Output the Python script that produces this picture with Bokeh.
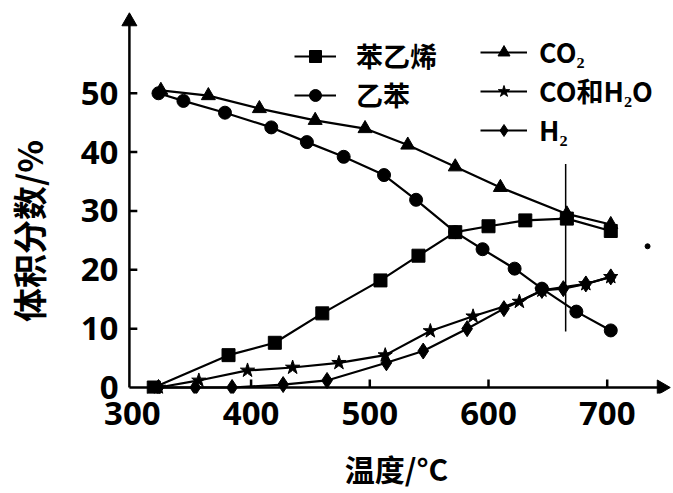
import math
from bokeh.plotting import figure
from bokeh.embed import file_html
from bokeh.resources import INLINE
from bokeh.models import Range1d, FixedTicker, Legend, LegendItem

# ---- data ----
t_styrene = [318, 381, 420, 460, 509, 541, 572, 600, 631, 666, 703]
styrene = [0, 5.5, 7.6, 12.6, 18.2, 22.4, 26.4, 27.4, 28.4, 28.7, 26.6]

t_ethylbenzene = [322, 343, 378, 417, 447, 478, 512, 539, 572, 595, 622, 645, 674, 703]
ethylbenzene = [50, 48.7, 46.7, 44.2, 41.7, 39.2, 36.1, 31.9, 26.4, 23.5, 20.2, 16.8, 12.9, 9.7]

t_co2 = [324, 364, 407, 454, 496, 532, 572, 610, 666, 703]
co2 = [50.5, 49.6, 47.4, 45.4, 44.0, 41.2, 37.5, 34.0, 29.5, 27.7]

t_co_h2o = [322, 356, 397, 435, 474, 513, 551, 587, 626, 645, 682, 703]
co_h2o = [0, 1.2, 2.9, 3.4, 4.2, 5.5, 9.6, 12.1, 14.6, 16.5, 17.6, 18.8]

t_h2 = [322, 353, 384, 427, 464, 514, 545, 582, 613, 645, 663, 682, 703]
h2 = [0, 0, 0, 0.5, 1.2, 4.2, 6.2, 10.0, 13.4, 16.5, 16.8, 17.6, 18.8]

x_ticks = [300, 400, 500, 600, 700]
y_ticks = [0, 10, 20, 30, 40, 50]

x_title = "温度/°C"
y_title = "体积分数/%"

vline_x = [665]
vline_y0 = [9.5]
vline_y1 = [38]

stray_x = [734]
stray_y = [24]

# ---- ranges / axis placement ----
W, H = 672, 492
BL, BB = 114, 98
FRAME_W, FRAME_H = W - BL, H - BB
X0 = 290.0
X1 = X0 + FRAME_W / 1.2          # 1.2 px per unit
Y0 = -6 / 5.9
Y1 = Y0 + FRAME_H / 5.9          # 5.9 px per unit
AX_X = 297.5                     # data x where the y axis line sits
AX_Y = 0.0                       # data y where the x axis line sits
PX_X = (X1 - X0) / FRAME_W       # data units per pixel
PX_Y = (Y1 - Y0) / FRAME_H

p = figure(width=W, height=H, output_backend="svg", toolbar_location=None,
           x_range=Range1d(X0, X1), y_range=Range1d(Y0, Y1),
           min_border_left=BL, min_border_right=0, min_border_top=0, min_border_bottom=BB)
p.outline_line_color = None
p.grid.visible = False
p.background_fill_color = "white"

tick_font = "Open Sans"
cjk = "Noto Sans CJK SC"

# Bokeh axes carry the tick labels and titles; the arrowed axis lines are drawn below
for ax in (p.xaxis[0], p.yaxis[0]):
    ax.axis_line_color = None
    ax.major_tick_line_color = None
    ax.major_tick_in = 0
    ax.major_tick_out = 0
    ax.minor_tick_line_color = None
    ax.major_label_text_font = tick_font
    ax.major_label_text_font_size = "33px"
    ax.major_label_text_font_style = "bold"
    ax.major_label_text_color = "black"
    ax.axis_label_text_font = cjk
    ax.axis_label_text_font_style = "bold"
    ax.axis_label_text_color = "black"

p.xaxis.ticker = FixedTicker(ticks=x_ticks)
p.yaxis.ticker = FixedTicker(ticks=y_ticks)
p.xaxis.major_label_standoff = 8
p.yaxis.major_label_standoff = 2

p.xaxis.axis_label = x_title
p.xaxis.axis_label_text_font_size = "30px"
p.xaxis.axis_label_standoff = 18

# trailing ideographic spaces move the visible title down along the axis, as in the reference
p.yaxis.axis_label = y_title + "\u3000\u3000"
p.yaxis.axis_label_text_font_size = "34px"
p.yaxis.axis_label_standoff = 25

# axis lines with arrow heads and inward ticks
ax_w = 2.5
p.segment(x0=[AX_X], y0=[AX_Y], x1=[AX_X], y1=[Y1 - 14 * PX_Y], line_width=ax_w, color="black")
p.segment(x0=[AX_X], y0=[AX_Y], x1=[X1 - 6 * PX_X], y1=[AX_Y], line_width=ax_w, color="black")
p.scatter([AX_X], [Y1 - 21 * PX_Y], marker="triangle", size=15, color="black")
p.scatter([X1 - 11 * PX_X], [AX_Y], marker="triangle", angle=-math.pi / 2, size=15, color="black")
y_tick_marks = [v for v in y_ticks if v > 0]
x_tick_marks = [v for v in x_ticks if v > 300]
p.segment(x0=[AX_X] * len(y_tick_marks), y0=y_tick_marks,
          x1=[AX_X + 8 * PX_X] * len(y_tick_marks), y1=y_tick_marks, line_width=ax_w, color="black")
p.segment(x0=x_tick_marks, y0=[AX_Y] * len(x_tick_marks),
          x1=x_tick_marks, y1=[AX_Y + 8 * PX_Y] * len(x_tick_marks), line_width=ax_w, color="black")

lw = 2.2
ms = 13

l1 = p.line(t_styrene, styrene, line_width=lw, color="black")
m1 = p.scatter(t_styrene, styrene, marker="square", size=ms, color="black")
l2 = p.line(t_ethylbenzene, ethylbenzene, line_width=lw, color="black")
m2 = p.scatter(t_ethylbenzene, ethylbenzene, marker="circle", size=ms, color="black")
l3 = p.line(t_co2, co2, line_width=lw, color="black")
m3 = p.scatter(t_co2, co2, marker="triangle", size=ms + 1, color="black")
l4 = p.line(t_co_h2o, co_h2o, line_width=lw, color="black")
m4 = p.scatter(t_co_h2o, co_h2o, marker="star", size=ms + 2, color="black")
l5 = p.line(t_h2, h2, line_width=lw, color="black")
m5 = p.scatter(t_h2, h2, marker="diamond", size=ms + 3, color="black")

p.segment(x0=vline_x, y0=vline_y0, x1=vline_x, y1=vline_y1, line_width=1.5, color="black")
p.scatter(stray_x, stray_y, marker="circle", size=5, color="black")

common = dict(orientation="vertical", padding=0, margin=0, spacing=-10,
              glyph_height=30, label_height=30,
              label_text_font=cjk, label_text_font_size="27px", label_text_font_style="bold",
              label_text_color="black", background_fill_alpha=0, border_line_color=None)

# legend location is in px from the frame's bottom-left corner
leg1 = Legend(items=[LegendItem(label="苯乙烯", renderers=[l1, m1]),
                     LegendItem(label="乙苯", renderers=[l2, m2])],
              location=(174, 279), glyph_width=42, label_standoff=20, **common)
leg2 = Legend(items=[LegendItem(label="CO₂", renderers=[l3, m3]),
                     LegendItem(label="CO和H₂O", renderers=[l4, m4]),
                     LegendItem(label="H₂", renderers=[l5, m5])],
              location=(360, 244), glyph_width=47, label_standoff=12, **common)
p.add_layout(leg1)
p.add_layout(leg2)

open("out.html", "w").write(file_html(p, INLINE))
